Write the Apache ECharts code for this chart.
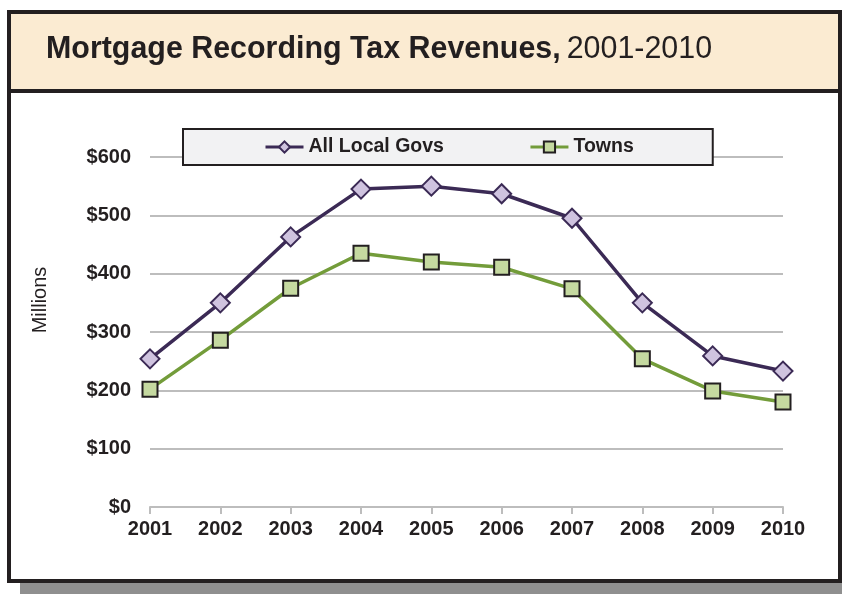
<!DOCTYPE html>
<html>
<head>
<meta charset="utf-8">
<script src="https://cdn.jsdelivr.net/npm/echarts@6/dist/echarts.min.js"></script>
<style>
  html, body { margin: 0; padding: 0; background: #fff; }
  #chart { width: 842px; height: 594px; }
</style>
</head>
<body>
<div id="chart"></div>
<script>
// values, in millions of dollars
const years = ['2001', '2002', '2003', '2004', '2005', '2006', '2007', '2008', '2009', '2010']
const allLocalGovs = [254, 350, 463, 545, 550, 537, 495, 350, 259, 233]
const towns = [202, 286, 375, 435, 420, 411, 374, 254, 199, 180]
const yTicks = [0, 100, 200, 300, 400, 500, 600]

const chart = echarts.init(document.getElementById('chart'))
const font = '"Liberation Sans", Arial, sans-serif'

const option = {
  backgroundColor: '#fff',
  animation: false,
  graphic: [
    // drop shadow of the frame
    { type: 'rect', z: -10, shape: { x: 20, y: 20, width: 822, height: 574 }, style: { fill: '#8f8f8f' } },
    // frame
    { type: 'rect', z: -9, shape: { x: 9, y: 12, width: 831, height: 569 }, style: { fill: '#fff', stroke: '#231f20', lineWidth: 4 } },
    // title band
    { type: 'rect', z: -8, shape: { x: 11, y: 14, width: 827, height: 76 }, style: { fill: '#fbebd2' } },
    { type: 'rect', z: -8, shape: { x: 11, y: 89, width: 827, height: 4 }, style: { fill: '#231f20' } },
    // title, squeezed to look like the condensed face of the original
    {
      type: 'text',
      x: 46,
      y: 49,
      scaleX: 0.95,
      style: {
        text: '{b|Mortgage Recording Tax Revenues,} {n|2001-2010}',
        verticalAlign: 'middle',
        rich: {
          b: { fontFamily: font, fontWeight: 'bold', fontSize: 32, fill: '#231f20' },
          n: { fontFamily: font, fontWeight: 'normal', fontSize: 32, fill: '#231f20', padding: [0, 0, 0, 3] }
        }
      }
    },
    // y axis title
    {
      type: 'text',
      x: 40,
      y: 300,
      rotation: Math.PI / 2,
      style: {
        text: 'Millions',
        align: 'center',
        verticalAlign: 'middle',
        fontFamily: font,
        fontSize: 20,
        fill: '#231f20'
      }
    }
  ],
  legend: {
    left: 183,
    top: 129,
    padding: [8, 79, 8, 81],
    itemGap: 85,
    itemWidth: 38,
    itemHeight: 14,
    backgroundColor: '#f2f2f3',
    borderColor: '#231f20',
    borderWidth: 2,
    borderRadius: 0,
    lineStyle: { width: 3 },
    textStyle: { fontFamily: font, fontWeight: 'bold', fontSize: 19.5, color: '#231f20' },
    data: ['All Local Govs', 'Towns']
  },
  grid: {
    left: 150,
    right: 59,
    top: 157,
    bottom: 87,
    containLabel: false
  },
  xAxis: {
    type: 'category',
    boundaryGap: false,
    data: years,
    axisLine: { lineStyle: { color: '#bdbdbd', width: 2 } },
    axisTick: { show: true, length: 7, lineStyle: { color: '#bdbdbd', width: 2 } },
    axisLabel: {
      margin: 12,
      fontFamily: font,
      fontWeight: 'bold',
      fontSize: 20,
      color: '#231f20'
    },
    splitLine: { show: false }
  },
  yAxis: {
    type: 'value',
    min: yTicks[0],
    max: yTicks[yTicks.length - 1],
    interval: 100,
    axisLine: { show: false },
    axisTick: { show: false },
    axisLabel: {
      margin: 19,
      fontFamily: font,
      fontWeight: 'bold',
      fontSize: 20,
      color: '#231f20',
      formatter: v => '$' + v
    },
    splitLine: { lineStyle: { color: '#bdbdbd', width: 2 } }
  },
  series: [
    {
      name: 'All Local Govs',
      type: 'line',
      data: allLocalGovs,
      symbol: 'diamond',
      symbolSize: 19,
      lineStyle: { color: '#3b2a55', width: 3.5 },
      itemStyle: { color: '#cfc3df', borderColor: '#3b2a55', borderWidth: 2 },
      z: 3
    },
    {
      name: 'Towns',
      type: 'line',
      data: towns,
      symbol: 'rect',
      symbolSize: 15,
      lineStyle: { color: '#739c3a', width: 3.5 },
      itemStyle: { color: '#c5d9a0', borderColor: '#231f20', borderWidth: 2 },
      z: 2
    }
  ]
}

chart.setOption(option)
</script>
</body>
</html>
